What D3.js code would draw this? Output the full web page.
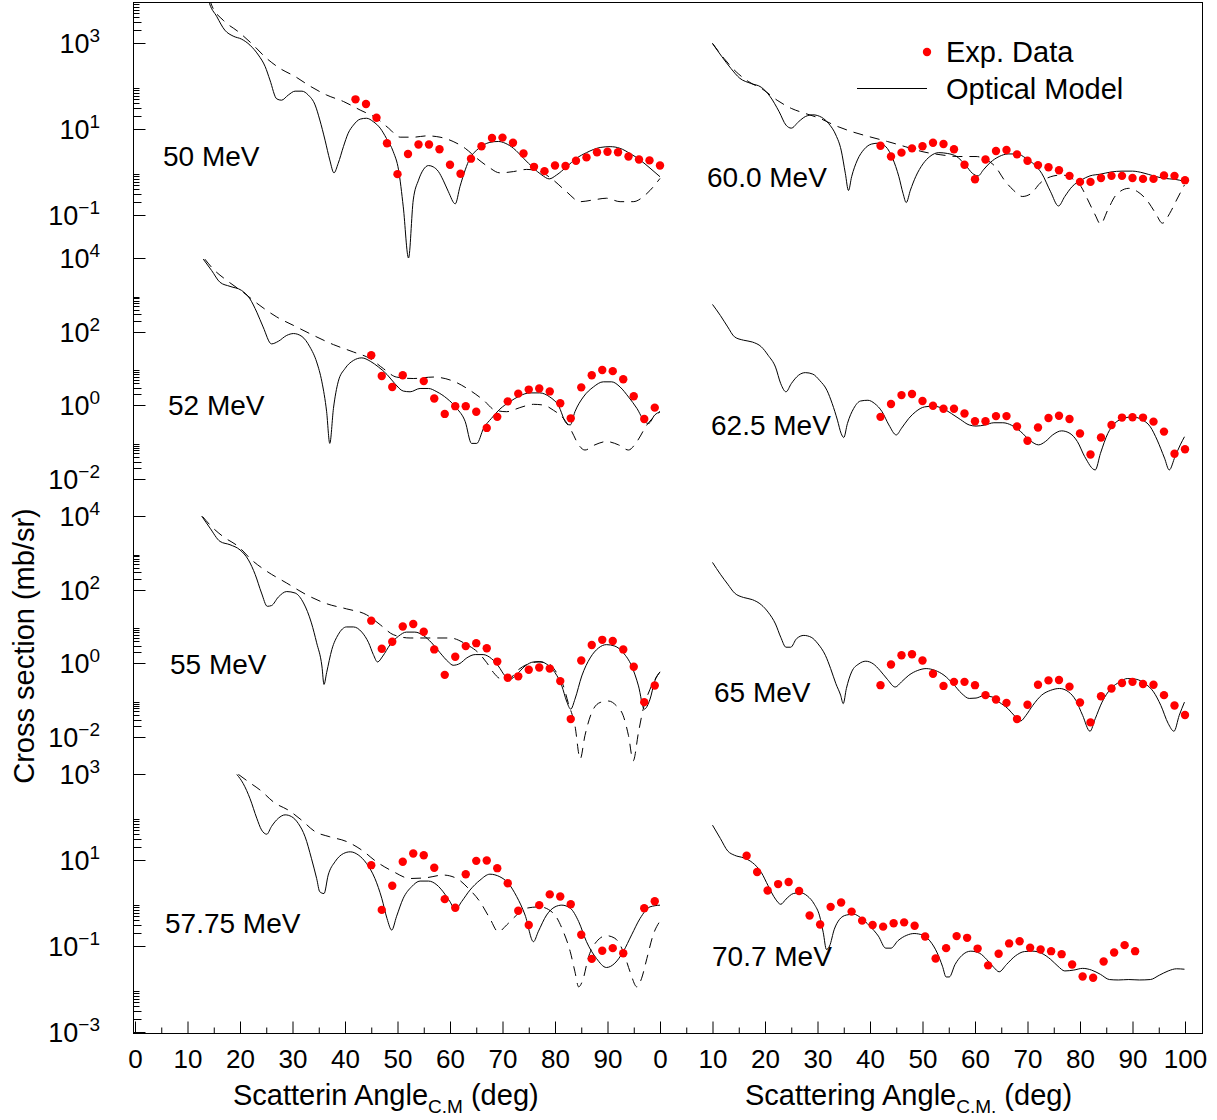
<!DOCTYPE html>
<html>
<head>
<meta charset="utf-8">
<script src="https://cdn.jsdelivr.net/npm/d3@7"></script>
<style>
  body { margin: 0; background: #fff; }
  svg { display: block; }
  text { font-family: "Liberation Sans", Arial, Helvetica, sans-serif; fill: #000; }
</style>
</head>
<body>
<div id="chart"></div>
<script>
// values are [angle (deg, c.m.), log10 of cross section (mb/sr)]

// ---- 50 MeV ----
const exp50 = [[42,1.69],[44,1.58],[46,1.26],[48,0.67],[50,-0.05],[52,0.42],[54,0.64],[56,0.64],[58,0.53],[60,0.17],[62,-0.04],[64,0.31],[66,0.60],[68,0.79],[70,0.80],[72,0.68],[74,0.43],[76,0.12],[78,0.02],[80,0.15],[82,0.14],[84,0.26],[86,0.34],[88,0.46],[90,0.47],[92,0.46],[94,0.36],[96,0.29],[98,0.27],[100,0.15]];
const om50 = [[13.3,4.4],[14.0,4.00],[15.6,3.61],[17.1,3.30],[18.7,3.16],[20.3,3.09],[21.9,2.95],[23.5,2.72],[24.8,2.45],[25.7,2.14],[27.0,1.70],[27.9,1.67],[29.2,1.79],[30.5,1.88],[31.8,1.88],[33.0,1.79],[34.3,1.56],[35.2,1.21],[36.2,0.74],[37.1,0.28],[37.9,-0.02],[38.7,0.20],[39.7,0.59],[40.6,0.90],[41.6,1.09],[42.9,1.23],[44.1,1.25],[45.4,1.17],[46.7,1.02],[47.9,0.78],[49.2,0.47],[50.2,0.05],[51.1,-0.81],[52.1,-2.0],[53.0,-0.65],[54.0,-0.19],[54.9,0.05],[55.9,0.15],[56.8,0.12],[57.8,0.01],[58.7,-0.19],[59.7,-0.46],[61.0,-0.74],[61.9,-0.34],[62.9,0.05],[63.8,0.32],[65.1,0.51],[66.4,0.63],[67.6,0.69],[69.2,0.71],[70.5,0.67],[72.1,0.55],[74.0,0.32],[75.9,0.09],[77.5,-0.07],[78.9,-0.16],[80.3,-0.07],[82.2,0.12],[84.1,0.32],[86.0,0.45],[88.6,0.57],[90.5,0.59],[92.4,0.55],[94.3,0.43],[96.2,0.28],[98.1,0.09],[100.0,-0.11]];
const alt50 = [[13.3,4.4],[14.6,3.88],[16.8,3.53],[19.7,3.26],[22.2,2.99],[25.1,2.64],[27.6,2.41],[30.5,2.22],[33.3,2.00],[36.5,1.79],[39.7,1.64],[42.9,1.44],[46.0,1.25],[48.3,1.02],[50.5,0.81],[53.0,0.81],[55.6,0.84],[58.1,0.81],[60.6,0.71],[62.9,0.55],[65.1,0.32],[67.3,0.12],[69.5,-0.02],[72.1,0.01],[74.6,0.06],[77.1,0.01],[79.7,-0.19],[82.2,-0.46],[84.8,-0.69],[87.3,-0.65],[89.8,-0.61],[92.4,-0.69],[94.9,-0.69],[97.5,-0.50],[100.0,-0.15]];

// ---- 52 MeV ----
const exp52 = [[45,1.36],[47,0.80],[49,0.50],[51,0.82],[55,0.66],[57,0.19],[59,-0.23],[61,-0.02],[63,-0.02],[65,-0.17],[67,-0.61],[69,-0.31],[71,0.11],[73,0.32],[75,0.43],[77,0.46],[79,0.38],[81,0.06],[83,-0.35],[85,0.49],[87,0.82],[89,0.96],[91,0.93],[93,0.71],[95,0.25],[97,-0.37],[99,-0.06]];
const om52 = [[13.0,3.97],[14.6,3.66],[16.2,3.34],[18.1,3.23],[20.3,3.12],[21.9,2.89],[23.2,2.53],[24.4,2.13],[26.0,1.67],[27.3,1.74],[28.9,1.90],[30.2,1.95],[31.8,1.87],[33.3,1.59],[34.6,1.18],[35.6,0.64],[36.5,-0.17],[37.1,-1.03],[37.8,-0.08],[38.7,0.64],[40.0,1.00],[41.6,1.22],[43.2,1.29],[44.8,1.20],[46.4,1.04],[48.0,0.84],[49.5,0.59],[51.1,0.39],[52.4,0.37],[54.3,0.46],[55.9,0.46],[57.5,0.37],[59.4,0.19],[61.3,-0.08],[62.9,-0.44],[64.1,-1.03],[65.1,-1.03],[66.4,-0.62],[67.9,-0.35],[69.5,-0.10],[71.4,0.10],[73.3,0.26],[75.2,0.34],[77.1,0.34],[79.0,0.23],[80.6,0.01],[82.2,-0.49],[82.9,-0.53],[83.8,-0.17],[85.4,0.23],[87.3,0.50],[89.2,0.64],[90.8,0.64],[92.4,0.50],[94.0,0.23],[95.6,-0.08],[97.1,-0.44],[97.8,-0.49],[99.0,-0.26],[100.0,-0.17]];
const alt52 = [[13.3,3.97],[14.9,3.70],[17.5,3.39],[20.6,3.07],[23.8,2.71],[27.0,2.40],[30.2,2.17],[34.0,1.90],[37.8,1.65],[41.6,1.45],[44.8,1.27],[47.3,1.00],[49.8,0.77],[53.0,0.73],[56.8,0.77],[60.6,0.66],[63.8,0.41],[66.4,0.14],[68.6,-0.13],[70.8,-0.17],[73.3,-0.06],[75.9,0.03],[77.8,0.01],[79.7,-0.13],[81.6,-0.35],[83.2,-0.71],[84.5,-1.07],[85.7,-1.21],[87.6,-1.07],[89.8,-0.98],[92.1,-1.07],[94.0,-1.21],[95.6,-0.98],[97.5,-0.53],[100.0,-0.17]];

// ---- 55 MeV ----
const exp55 = [[45,1.16],[47,0.40],[49,0.59],[51,1.00],[53,1.07],[55,0.86],[57,0.38],[59,-0.31],[61,0.18],[63,0.47],[65,0.55],[67,0.41],[69,0.05],[71,-0.39],[73,-0.35],[75,-0.17],[77,-0.11],[79,-0.14],[81,-0.48],[83,-1.51],[85,0.08],[87,0.50],[89,0.64],[91,0.61],[93,0.38],[95,-0.09],[97,-1.05],[99,-0.60]];
const om55 = [[12.7,4.00],[14.3,3.67],[16.2,3.31],[18.1,3.22],[20.0,3.08],[21.6,2.81],[22.9,2.41],[24.1,1.91],[25.2,1.55],[26.0,1.57],[27.3,1.80],[28.9,1.95],[30.5,1.91],[32.1,1.64],[33.6,1.10],[34.6,0.56],[35.6,-0.07],[36.0,-0.57],[36.5,-0.25],[37.5,0.38],[38.7,0.78],[40.3,0.99],[41.6,0.99],[43.2,0.85],[44.5,0.56],[45.4,0.24],[46.2,0.04],[47.2,0.20],[48.6,0.51],[50.2,0.74],[51.7,0.85],[53.3,0.85],[54.9,0.76],[56.5,0.56],[58.1,0.29],[59.7,0.04],[60.6,-0.05],[61.9,0.00],[63.2,0.15],[64.8,0.24],[66.3,0.24],[67.9,0.13],[69.2,-0.07],[70.5,-0.34],[71.4,-0.43],[72.7,-0.30],[74.3,-0.07],[75.9,0.04],[77.1,0.05],[78.7,-0.05],[80.0,-0.25],[81.3,-0.61],[82.2,-1.02],[83.0,-1.24],[83.8,-0.97],[85.1,-0.34],[86.7,0.15],[88.3,0.42],[89.8,0.51],[91.4,0.47],[93.0,0.29],[94.6,-0.07],[95.9,-0.61],[97.0,-1.24],[98.1,-0.97],[99.0,-0.48],[100.0,-0.23]];
const alt55 = [[12.9,3.98],[14.6,3.71],[16.8,3.44],[19.7,3.17],[22.2,2.81],[25.1,2.50],[28.9,2.18],[32.7,1.86],[36.5,1.62],[40.3,1.48],[44.1,1.32],[46.7,1.05],[49.2,0.78],[52.4,0.69],[56.2,0.69],[60.0,0.69],[63.2,0.51],[65.4,0.29],[67.0,0.02],[68.3,-0.25],[69.5,-0.41],[71.1,-0.45],[72.7,-0.21],[74.6,-0.03],[76.8,0.04],[78.7,0.00],[80.3,-0.25],[81.6,-0.61],[82.5,-1.06],[83.8,-1.69],[84.8,-2.59],[85.7,-1.96],[87.0,-1.33],[88.6,-1.06],[90.2,-1.02],[91.7,-1.15],[93.0,-1.42],[94.0,-1.96],[94.9,-2.64],[95.9,-1.87],[96.8,-1.24],[98.1,-0.70],[100.0,-0.23]];

// ---- 57.75 MeV ----
const exp57 = [[45,0.88],[47,-0.16],[49,0.40],[51,0.96],[53,1.15],[55,1.11],[57,0.82],[59,0.09],[61,-0.11],[63,0.67],[65,0.98],[67,0.99],[69,0.81],[71,0.46],[73,-0.18],[75,-0.51],[77,-0.05],[79,0.20],[81,0.15],[83,-0.03],[85,-0.74],[87,-1.30],[89,-1.11],[91,-1.05],[93,-1.17],[97,-0.12],[99,0.04]];
const om57 = [[19.4,2.99],[20.6,2.78],[21.9,2.43],[23.2,1.97],[24.1,1.70],[25.1,1.60],[26.0,1.78],[27.3,1.97],[28.6,2.05],[29.8,2.01],[31.1,1.85],[32.4,1.54],[33.6,1.04],[34.6,0.57],[35.2,0.26],[36.0,0.22],[36.8,0.65],[38.1,0.96],[39.7,1.15],[41.0,1.19],[42.5,1.12],[44.1,0.92],[45.7,0.57],[47.0,0.11],[48.0,-0.36],[48.9,-0.63],[49.8,-0.32],[51.1,0.11],[52.7,0.38],[54.3,0.51],[55.9,0.51],[57.5,0.42],[58.7,0.26],[60.0,0.03],[61.0,-0.16],[62.2,0.03],[63.8,0.30],[65.7,0.53],[67.6,0.67],[69.5,0.61],[71.1,0.46],[72.7,0.15],[74.3,-0.28],[75.9,-0.90],[76.8,-0.67],[78.4,-0.28],[80.0,-0.09],[81.3,-0.05],[82.9,-0.12],[84.5,-0.43],[86.0,-0.90],[87.9,-1.29],[89.8,-1.50],[91.4,-1.40],[93.0,-1.13],[94.6,-0.74],[96.2,-0.36],[98.1,-0.09],[100.0,-0.05]];
const alt57 = [[19.7,2.99],[21.6,2.82],[23.8,2.63],[26.7,2.32],[29.2,2.16],[31.7,1.93],[34.3,1.66],[37.1,1.54],[40.3,1.43],[43.2,1.23],[46.0,0.96],[49.2,0.73],[52.4,0.57],[55.6,0.59],[58.7,0.65],[61.3,0.57],[63.5,0.34],[65.7,0.03],[67.6,-0.36],[69.2,-0.67],[70.8,-0.51],[72.7,-0.28],[74.6,-0.12],[77.1,-0.09],[79.7,-0.24],[81.6,-0.67],[82.9,-1.13],[83.8,-1.60],[84.5,-1.95],[85.4,-1.75],[86.3,-1.29],[87.9,-0.90],[89.8,-0.76],[91.4,-0.82],[93.0,-1.13],[94.3,-1.60],[95.6,-1.95],[96.5,-1.75],[97.5,-1.29],[98.7,-0.74],[100.0,-0.42]];

// ---- 60.0 MeV ----
const exp60 = [[42,0.61],[44,0.36],[46,0.45],[48,0.55],[50,0.60],[52,0.68],[54,0.65],[56,0.53],[58,0.17],[60,-0.17],[62,0.29],[64,0.49],[66,0.51],[68,0.41],[70,0.26],[72,0.16],[74,0.11],[76,0.04],[78,-0.09],[80,-0.23],[82,-0.23],[84,-0.14],[86,-0.09],[88,-0.09],[90,-0.14],[92,-0.16],[94,-0.16],[96,-0.08],[98,-0.09],[100,-0.19]];
const om60 = [[10.0,2.99],[11.8,2.68],[13.5,2.41],[15.2,2.18],[17.3,2.06],[19.3,1.97],[21.0,1.75],[22.7,1.40],[24.0,1.09],[25.0,1.02],[26.4,1.17],[27.7,1.29],[29.1,1.33],[30.8,1.27],[32.1,1.13],[33.5,0.86],[34.5,0.51],[35.3,-0.03],[35.9,-0.43],[36.5,-0.11],[37.6,0.28],[38.9,0.53],[40.3,0.65],[41.6,0.67],[43.0,0.59],[44.3,0.32],[45.5,-0.11],[46.3,-0.50],[46.9,-0.71],[47.7,-0.42],[48.7,-0.11],[50.1,0.19],[51.4,0.36],[53.1,0.45],[54.8,0.43],[56.5,0.36],[58.2,0.16],[59.5,-0.03],[60.6,-0.09],[61.6,0.05],[62.9,0.22],[64.6,0.36],[66.3,0.42],[68.0,0.42],[69.7,0.32],[71.4,0.16],[72.7,-0.03],[74.4,-0.46],[75.9,-0.79],[77.1,-0.57],[78.5,-0.34],[80.2,-0.19],[81.9,-0.09],[83.9,-0.05],[85.9,0.00],[88.0,0.02],[90.0,0.02],[92.0,-0.02],[94.0,-0.09],[96.1,-0.15],[98.1,-0.17],[99.9,-0.22]];
const alt60 = [[10.0,2.99],[12.2,2.64],[14.5,2.33],[16.9,2.10],[19.6,1.92],[22.3,1.67],[25.0,1.48],[27.7,1.36],[30.4,1.25],[33.2,1.09],[36.5,0.94],[39.9,0.82],[43.3,0.71],[46.7,0.59],[50.1,0.47],[53.5,0.40],[56.8,0.36],[60.2,0.36],[62.2,0.28],[63.9,0.12],[65.6,-0.19],[67.3,-0.42],[69.0,-0.57],[70.7,-0.50],[72.4,-0.26],[74.4,-0.11],[76.5,-0.07],[78.5,-0.15],[80.2,-0.34],[81.5,-0.65],[82.9,-1.00],[83.9,-1.21],[85.3,-0.88],[86.9,-0.53],[89.3,-0.38],[91.0,-0.46],[92.7,-0.65],[94.4,-0.96],[95.7,-1.19],[97.1,-0.96],[98.4,-0.65],[99.9,-0.30]];

// ---- 62.5 MeV ----
const exp62 = [[42,-0.31],[44,0.04],[46,0.28],[48,0.31],[50,0.12],[52,-0.01],[54,-0.09],[56,-0.09],[58,-0.22],[60,-0.43],[62,-0.43],[64,-0.29],[66,-0.29],[68,-0.57],[70,-0.96],[72,-0.60],[74,-0.34],[76,-0.28],[78,-0.37],[80,-0.76],[82,-1.33],[84,-0.87],[86,-0.53],[88,-0.33],[90,-0.32],[92,-0.33],[94,-0.44],[96,-0.71],[98,-1.31],[100,-1.19]];
const om62 = [[10.0,2.74],[11.5,2.44],[12.9,2.13],[14.2,1.86],[15.9,1.77],[17.6,1.72],[19.3,1.59],[20.6,1.36],[22.0,1.04],[23.0,0.59],[24.0,0.37],[25.0,0.59],[26.4,0.82],[27.7,0.89],[29.1,0.85],[30.4,0.68],[31.8,0.41],[32.8,0.05],[33.8,-0.40],[34.5,-0.76],[35.0,-0.87],[35.7,-0.49],[36.9,-0.08],[38.2,0.12],[39.6,0.14],[40.9,0.05],[42.3,-0.17],[43.6,-0.53],[45.0,-0.80],[46.0,-0.62],[47.4,-0.35],[48.7,-0.17],[50.4,-0.04],[52.1,-0.02],[53.8,-0.08],[55.5,-0.22],[57.2,-0.38],[58.9,-0.53],[60.2,-0.56],[61.9,-0.53],[63.6,-0.47],[65.3,-0.47],[67.0,-0.54],[68.7,-0.71],[70.4,-0.94],[72.1,-1.07],[73.4,-0.98],[74.8,-0.80],[76.5,-0.69],[78.1,-0.76],[79.5,-0.98],[80.9,-1.39],[82.9,-1.75],[83.9,-1.30],[85.3,-0.76],[86.6,-0.49],[88.3,-0.35],[90.0,-0.31],[91.7,-0.38],[93.4,-0.58],[94.7,-0.94],[96.1,-1.43],[97.0,-1.75],[98.1,-1.39],[99.1,-1.07],[99.9,-0.85]];

// ---- 65 MeV ----
const exp65 = [[42,-0.59],[44,-0.03],[46,0.22],[48,0.25],[50,0.08],[52,-0.28],[54,-0.61],[56,-0.50],[58,-0.50],[60,-0.59],[62,-0.86],[64,-0.98],[66,-1.07],[68,-1.51],[70,-1.12],[72,-0.58],[74,-0.46],[76,-0.45],[78,-0.63],[80,-1.06],[82,-1.60],[84,-0.89],[86,-0.68],[88,-0.53],[90,-0.50],[92,-0.56],[94,-0.58],[96,-0.86],[98,-1.14],[100,-1.40]];
const om65 = [[10.0,2.74],[11.5,2.42],[12.9,2.15],[14.2,1.91],[15.9,1.79],[17.6,1.73],[19.3,1.59],[20.6,1.39],[22.0,1.07],[23.0,0.71],[24.0,0.44],[24.9,0.44],[26.0,0.67],[27.4,0.76],[28.8,0.71],[30.1,0.53],[31.5,0.22],[32.5,-0.14],[33.5,-0.55],[34.4,-0.86],[34.9,-1.09],[35.5,-0.68],[36.5,-0.23],[37.9,-0.01],[39.2,0.06],[40.6,-0.01],[41.9,-0.19],[43.3,-0.43],[44.8,-0.64],[46.0,-0.50],[47.4,-0.32],[49.1,-0.19],[50.7,-0.14],[52.4,-0.19],[54.1,-0.32],[55.8,-0.55],[57.5,-0.82],[58.9,-0.95],[60.2,-0.94],[61.6,-0.88],[63.3,-0.91],[64.6,-1.05],[66.3,-1.23],[67.7,-1.45],[68.7,-1.56],[69.7,-1.41],[71.0,-1.14],[72.7,-0.86],[74.4,-0.73],[76.1,-0.68],[77.8,-0.77],[79.2,-1.00],[80.5,-1.41],[81.9,-1.84],[82.9,-1.50],[84.2,-1.05],[85.9,-0.68],[87.6,-0.50],[89.0,-0.41],[90.7,-0.43],[92.4,-0.55],[94.0,-0.77],[95.4,-1.14],[96.8,-1.63],[97.9,-1.84],[98.9,-1.41],[99.9,-1.05]];

// ---- 70.7 MeV ----
const exp70 = [[16.5,1.10],[18.5,0.72],[20.5,0.29],[22.5,0.44],[24.5,0.49],[26.5,0.28],[28.5,-0.29],[30.5,-0.50],[32.5,-0.09],[34.5,0.01],[36.5,-0.20],[38.5,-0.41],[40.5,-0.51],[42.5,-0.55],[44.5,-0.47],[46.5,-0.45],[48.5,-0.53],[50.5,-0.78],[52.5,-1.29],[54.5,-1.05],[56.5,-0.77],[58.5,-0.81],[60.5,-1.06],[62.5,-1.45],[64.5,-1.18],[66.5,-0.94],[68.5,-0.89],[70.5,-1.04],[72.5,-1.08],[74.5,-1.12],[76.5,-1.19],[78.5,-1.43],[80.5,-1.71],[82.5,-1.74],[84.5,-1.36],[86.5,-1.15],[88.5,-0.98],[90.5,-1.12]];
const om70 = [[10.0,1.81],[11.5,1.50],[12.9,1.21],[14.2,1.11],[15.9,1.05],[17.6,0.94],[19.3,0.71],[20.6,0.40],[22.0,0.09],[23.0,-0.03],[24.0,0.09],[25.4,0.22],[26.7,0.24],[28.1,0.16],[29.4,-0.03],[30.4,-0.30],[31.1,-0.69],[31.7,-1.08],[32.3,-1.00],[33.2,-0.61],[34.2,-0.38],[35.5,-0.28],[36.9,-0.26],[38.2,-0.34],[39.9,-0.53],[41.6,-0.77],[43.0,-1.05],[44.0,-1.05],[45.3,-0.88],[47.0,-0.75],[48.4,-0.71],[50.1,-0.75],[51.4,-0.88],[52.8,-1.16],[53.8,-1.47],[54.5,-1.72],[55.1,-1.72],[56.2,-1.43],[57.5,-1.22],[59.2,-1.12],[60.9,-1.17],[62.2,-1.31],[63.6,-1.50],[64.6,-1.60],[66.0,-1.43],[67.7,-1.23],[69.4,-1.13],[71.0,-1.12],[72.7,-1.17],[74.4,-1.31],[75.8,-1.47],[77.1,-1.58],[78.8,-1.56],[80.5,-1.52],[82.2,-1.56],[83.9,-1.66],[85.6,-1.78],[87.3,-1.79],[89.3,-1.78],[91.3,-1.79],[93.4,-1.78],[95.1,-1.68],[96.8,-1.58],[98.4,-1.53],[99.9,-1.54]];

// axes
const rowDomains = [[1e-2, 1e4], [1e-3, 1e4], [1e-3, 1e4], [1e-3, 1e3]];
const rowLabelExps = [[3, 1, -1], [4, 2, 0, -2], [4, 2, 0, -2], [3, 1, -1, -3]];
const angleTicksLeft = [0, 10, 20, 30, 40, 50, 60, 70, 80, 90];
const angleTicksRight = [0, 10, 20, 30, 40, 50, 60, 70, 80, 90, 100];
const angleMinor = [5, 15, 25, 35, 45, 55, 65, 75, 85, 95];

const panels = [
  { label: "50 MeV", col: 0, row: 0, exp: exp50, om: om50, alt: alt50 },
  { label: "52 MeV", col: 0, row: 1, exp: exp52, om: om52, alt: alt52 },
  { label: "55 MeV", col: 0, row: 2, exp: exp55, om: om55, alt: alt55 },
  { label: "57.75 MeV", col: 0, row: 3, exp: exp57, om: om57, alt: alt57 },
  { label: "60.0 MeV", col: 1, row: 0, exp: exp60, om: om60, alt: alt60 },
  { label: "62.5 MeV", col: 1, row: 1, exp: exp62, om: om62 },
  { label: "65 MeV", col: 1, row: 2, exp: exp65, om: om65 },
  { label: "70.7 MeV", col: 1, row: 3, exp: exp70, om: om70 }
];
// where the energy labels sit (left x, baseline)
const labelPos = [[163, 166], [168, 415], [170, 674], [165, 933], [707, 187], [711, 435], [714, 702], [712, 966]];

const width = 1217, height = 1120;
const frame = { left: 133.5, right: 1202.5, top: 2.5, bottom: 1033.5 };
const rowTop = [0, 258, 516, 774], rowH = 258;

const svg = d3.select("#chart").append("svg")
  .attr("width", width)
  .attr("height", height);

svg.append("defs").append("clipPath").attr("id", "clip")
  .append("rect")
  .attr("x", frame.left).attr("y", frame.top)
  .attr("width", frame.right - frame.left)
  .attr("height", frame.bottom - frame.top);

let xScales = [
  d3.scaleLinear().domain([0, 100]).range([135, 660]),
  d3.scaleLinear().domain([0, 100]).range([660, 1185])
];
let yScales = rowDomains.map(function(dom, i) {
  return d3.scaleLog().domain(dom).range([rowTop[i] + rowH, rowTop[i]]);
});

let plot = svg.append("g").attr("clip-path", "url(#clip)");

panels.forEach(function(p, i) {
  let x = xScales[p.col];
  let y = yScales[p.row];
  let line = d3.line()
    .x(function(d) { return x(d[0]); })
    .y(function(d) { return y(Math.pow(10, d[1])); })
    .curve(d3.curveMonotoneX);

  let g = plot.append("g").attr("class", "panel");

  if (p.alt) {
    g.append("path")
      .datum(p.alt)
      .attr("d", line)
      .attr("fill", "none")
      .attr("stroke", "#000")
      .attr("stroke-width", 1)
      .attr("stroke-dasharray", "10,7");
  }
  g.append("path")
    .datum(p.om)
    .attr("d", line)
    .attr("fill", "none")
    .attr("stroke", "#000")
    .attr("stroke-width", 1);

  g.selectAll("circle")
    .data(p.exp)
    .enter()
    .append("circle")
    .attr("cx", function(d) { return x(d[0]); })
    .attr("cy", function(d) { return y(Math.pow(10, d[1])); })
    .attr("r", 4.2)
    .attr("fill", "#ff0000");

  svg.append("text")
    .attr("x", labelPos[i][0])
    .attr("y", labelPos[i][1])
    .attr("font-size", 28)
    .text(p.label);
});

// frame
svg.append("rect")
  .attr("x", frame.left).attr("y", frame.top)
  .attr("width", frame.right - frame.left)
  .attr("height", frame.bottom - frame.top)
  .attr("fill", "none")
  .attr("stroke", "#000")
  .attr("stroke-width", 1);

// log y axes, one per row, ticks pointing inside
let yAxis = svg.append("g").attr("class", "y-axis");
rowLabelExps.forEach(function(exps, r) {
  let y = yScales[r];
  let dom = rowDomains[r];
  exps.forEach(function(e) {
    let yy = Math.round(y(Math.pow(10, e))) + 0.5;
    yAxis.append("line")
      .attr("x1", frame.left).attr("x2", frame.left + 12)
      .attr("y1", yy).attr("y2", yy)
      .attr("stroke", "#000");
    for (let m = 2; m <= 9; m++) {
      let v = m * Math.pow(10, e);
      if (v < dom[0] || v > dom[1]) continue;
      let ym = Math.round(y(v)) + 0.5;
      yAxis.append("line")
        .attr("x1", frame.left).attr("x2", frame.left + (m < 4 ? 8 : 6))
        .attr("y1", ym).attr("y2", ym)
        .attr("stroke", "#000");
    }
    let t = yAxis.append("text")
      .attr("x", 100)
      .attr("y", y(Math.pow(10, e)) + 10)
      .attr("text-anchor", "end")
      .attr("font-size", 27);
    t.append("tspan").text("10");
    t.append("tspan")
      .attr("dy", -11)
      .attr("font-size", 19)
      .text(e < 0 ? "\u2212" + Math.abs(e) : String(e));
  });
});

// bottom axis: two angle scales side by side
function styleAxis(g) {
  g.select(".domain").remove();
  g.attr("font-family", null).attr("font-size", 26);
  g.selectAll(".tick line").attr("stroke", "#000");
}
svg.append("g")
  .attr("transform", `translate(0, ${frame.bottom})`)
  .call(d3.axisBottom(xScales[0]).tickValues(angleTicksLeft).tickSize(-12).tickSizeOuter(0).tickPadding(16).tickFormat(d3.format("d")))
  .call(styleAxis);
svg.append("g")
  .attr("transform", `translate(0, ${frame.bottom})`)
  .call(d3.axisBottom(xScales[1]).tickValues(angleTicksRight).tickSize(-12).tickSizeOuter(0).tickPadding(16).tickFormat(d3.format("d")))
  .call(styleAxis);
xScales.forEach(function(x) {
  svg.append("g")
    .attr("transform", `translate(0, ${frame.bottom})`)
    .call(d3.axisBottom(x).tickValues(angleMinor).tickSize(-6).tickSizeOuter(0).tickFormat(""))
    .call(styleAxis);
});

// axis titles
let xt1 = svg.append("text").attr("x", 233).attr("y", 1105).attr("font-size", 29);
xt1.append("tspan").text("Scatterin Angle");
xt1.append("tspan").attr("dy", 8).attr("font-size", 19).text("C.M");
xt1.append("tspan").attr("dy", -8).text(" (deg)");

let xt2 = svg.append("text").attr("x", 745).attr("y", 1105).attr("font-size", 29);
xt2.append("tspan").text("Scattering Angle");
xt2.append("tspan").attr("dy", 8).attr("font-size", 19).text("C.M.");
xt2.append("tspan").attr("dy", -8).text(" (deg)");

svg.append("text")
  .attr("transform", "translate(34, 646) rotate(-90)")
  .attr("text-anchor", "middle")
  .attr("font-size", 29)
  .text("Cross section (mb/sr)");

// legend
let legend = svg.append("g").attr("class", "legend");
legend.append("circle").attr("cx", 927).attr("cy", 52).attr("r", 4.2).attr("fill", "#ff0000");
legend.append("text").attr("x", 946).attr("y", 62).attr("font-size", 29).text("Exp. Data");
legend.append("line")
  .attr("x1", 857).attr("x2", 927)
  .attr("y1", 88.5).attr("y2", 88.5)
  .attr("stroke", "#000").attr("stroke-width", 1);
legend.append("text").attr("x", 946).attr("y", 99).attr("font-size", 29).text("Optical Model");
</script>
</body>
</html>
